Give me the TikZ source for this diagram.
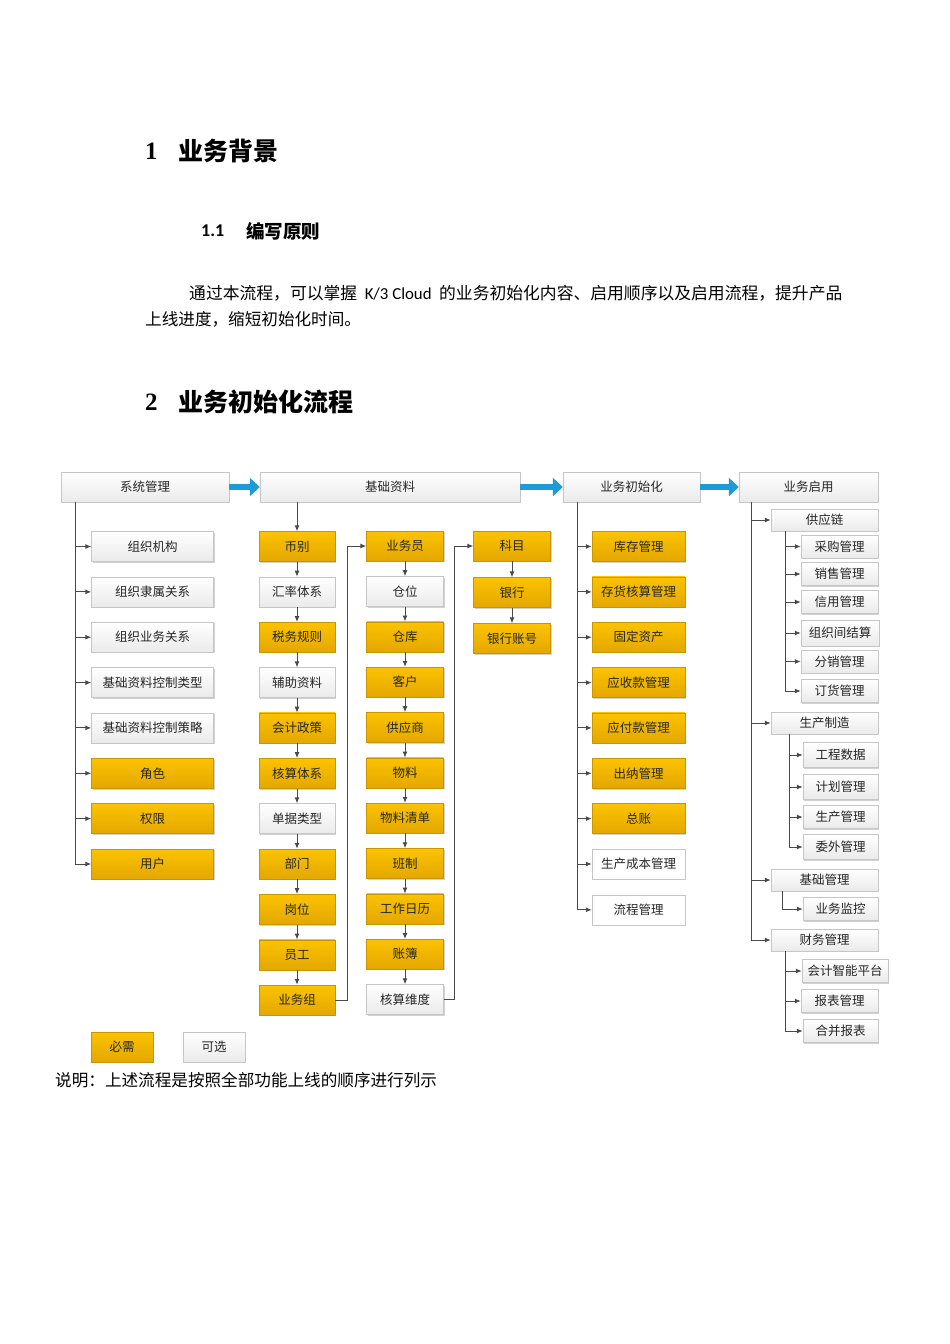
\documentclass[tikz,border=0pt]{standalone}
\usepackage{fontspec}
\setmainfont{Noto Sans CJK SC}
\newfontfamily\latf{Carlito}
\newfontfamily\serf{Liberation Serif}
\usetikzlibrary{arrows.meta,shadows}
\definecolor{yTop}{HTML}{FBC300}
\definecolor{yBot}{HTML}{E4A700}
\definecolor{yBdr}{HTML}{C99600}
\definecolor{wBot}{HTML}{EAEAEA}
\definecolor{wBdr}{HTML}{C6C6C6}
\definecolor{lineC}{HTML}{4A4A4A}
\definecolor{blueA}{HTML}{1E9AD6}
\begin{document}
\begin{tikzpicture}[x=1pt,y=-1pt,
  box/.style={rectangle, inner sep=0pt, font=\fontsize{12.5}{14}\selectfont, text=black!85,
    drop shadow={shadow xshift=1.2pt, shadow yshift=-1.2pt, opacity=0.18, fill=black}},
  ybox/.style={box, draw=yBdr, top color=yTop, bottom color=yBot, minimum height=30pt},
  wbox/.style={box, draw=wBdr, top color=white, bottom color=wBot, minimum height=30pt},
  pbox/.style={box, draw=wBdr, fill=white, minimum height=30pt},
  c1/.style={minimum width=122pt},
  c2/.style={minimum width=76pt},
  c3/.style={minimum width=77pt},
  c5/.style={minimum width=93pt},
  grp/.style={wbox, minimum width=107pt, minimum height=22pt},
  leaf/.style={wbox, minimum width=77pt, minimum height=23pt},
  arr/.style={draw=lineC, line width=1pt, -{Latex[length=6pt,width=5pt]}},
  barr/.style={draw=blueA, line width=6.5pt, -{Triangle[length=10pt,width=18pt]}},
  txt/.style={anchor=west, inner sep=0pt, text=black}
]
\fill[white] (0,0) rectangle (950,1344);
\useasboundingbox (0,0) rectangle (950,1344);

% ---------- headings and text ----------
\node[txt, font=\serf\bfseries\fontsize{25}{30}\selectfont] (hn1) at (145,151) {1};
\node[txt, font=\bfseries\fontsize{25}{30}\selectfont] (ht1) at (178,151) {业务背景};
\node[txt, font=\latf\bfseries\fontsize{18}{22}\selectfont] (hn11) at (201,231) {1.1};
\node[txt, font=\bfseries\fontsize{18.5}{22}\selectfont] (ht11) at (246,231) {编写原则};
\node[txt, font=\fontsize{16.8}{20}\selectfont] (p1) at (189,293) {通过本流程，可以掌握\hspace{0.45em}{\latf K/3 Cloud}\hspace{0.45em}的业务初始化内容、启用顺序以及启用流程，提升产品};
\node[txt, font=\fontsize{16.6}{20}\selectfont] (p2) at (145,319) {上线进度，缩短初始化时间。};
\node[txt, font=\serf\bfseries\fontsize{25}{30}\selectfont] (hn2) at (145,402) {2};
\node[txt, font=\bfseries\fontsize{25}{30}\selectfont] (ht2) at (178,402) {业务初始化流程};
\node[txt, font=\fontsize{16.6}{20}\selectfont] (note) at (55,1080) {说明：上述流程是按照全部功能上线的顺序进行列示};

% ---------- headers ----------
\node[wbox, minimum width=168pt] (h1) at (145,487) {系统管理};
\node[wbox, minimum width=260pt] (h2) at (390,487) {基础资料};
\node[wbox, minimum width=137pt] (h3) at (631.5,487) {业务初始化};
\node[wbox, minimum width=139pt] (h4) at (808.5,487) {业务启用};
\draw[barr] (h1.east) -- (h2.west);
\draw[barr] (h2.east) -- (h3.west);
\draw[barr] (h3.east) -- (h4.west);

% ---------- column 1 ----------
\node[wbox,c1] (a0) at (152.5,546.5) {组织机构};
\node[wbox,c1] (a1) at (152.5,591.9) {组织隶属关系};
\node[wbox,c1] (a2) at (152.5,637.2) {组织业务关系};
\node[wbox,c1] (a3) at (152.5,682.6) {基础资料控制类型};
\node[wbox,c1] (a4) at (152.5,727.9) {基础资料控制策略};
\node[ybox,c1] (a5) at (152.5,773.3) {角色};
\node[ybox,c1] (a6) at (152.5,818.6) {权限};
\node[ybox,c1] (a7) at (152.5,864.0) {用户};
\coordinate (t1) at ([xshift=15pt]h1.south west);
\foreach \n in {a0,a1,a2,a3,a4,a5,a6,a7} \draw[arr] (t1) |- (\n.west);

% ---------- column 2 ----------
\node[ybox,c2] (b0) at (297,546.5) {币别};
\node[wbox,c2] (b1) at (297,591.9) {汇率体系};
\node[ybox,c2] (b2) at (297,637.2) {税务规则};
\node[wbox,c2] (b3) at (297,682.6) {辅助资料};
\node[ybox,c2] (b4) at (297,727.9) {会计政策};
\node[ybox,c2] (b5) at (297,773.3) {核算体系};
\node[wbox,c2] (b6) at (297,818.6) {单据类型};
\node[ybox,c2] (b7) at (297,864.0) {部门};
\node[ybox,c2] (b8) at (297,909.3) {岗位};
\node[ybox,c2] (b9) at (297,954.7) {员工};
\node[ybox,c2] (b10) at (297,1000.0) {业务组};
\draw[arr] (b0.north |- h2.south) -- (b0.north);
\foreach \u/\v in {b0/b1,b1/b2,b2/b3,b3/b4,b4/b5,b5/b6,b6/b7,b7/b8,b8/b9,b9/b10}
  \draw[arr] (\u.south) -- (\v.north);

% ---------- column 3 ----------
\node[ybox,c3] (d0) at (405,546.0) {业务员};
\node[wbox,c3] (d1) at (405,591.4) {仓位};
\node[ybox,c3] (d2) at (405,636.7) {仓库};
\node[ybox,c3] (d3) at (405,682.1) {客户};
\node[ybox,c3] (d4) at (405,727.4) {供应商};
\node[ybox,c3] (d5) at (405,772.8) {物料};
\node[ybox,c3] (d6) at (405,818.1) {物料清单};
\node[ybox,c3] (d7) at (405,863.5) {班制};
\node[ybox,c3] (d8) at (405,908.8) {工作日历};
\node[ybox,c3] (d9) at (405,954.2) {账簿};
\node[wbox,c3] (d10) at (405,999.5) {核算维度};
\foreach \u/\v in {d0/d1,d1/d2,d2/d3,d3/d4,d4/d5,d5/d6,d6/d7,d7/d8,d8/d9,d9/d10}
  \draw[arr] (\u.south) -- (\v.north);
\draw[arr] (b10.east) -- ++(12,0) |- (d0.west);

% ---------- column 4 ----------
\node[ybox,c3] (e0) at (512,546.0) {科目};
\node[ybox,c3] (e1) at (512,592.5) {银行};
\node[ybox,c3] (e2) at (512,638.5) {银行账号};
\draw[arr] (e0.south) -- (e1.north);
\draw[arr] (e1.south) -- (e2.north);
\draw[arr] (d10.east) -- ++(11,0) |- (e0.west);

% ---------- column 5 ----------
\node[ybox,c5] (f0) at (638.5,546.5) {库存管理};
\node[ybox,c5] (f1) at (638.5,591.9) {存货核算管理};
\node[ybox,c5] (f2) at (638.5,637.2) {固定资产};
\node[ybox,c5] (f3) at (638.5,682.6) {应收款管理};
\node[ybox,c5] (f4) at (638.5,727.9) {应付款管理};
\node[ybox,c5] (f5) at (638.5,773.3) {出纳管理};
\node[ybox,c5] (f6) at (638.5,818.6) {总账};
\node[pbox,c5] (f7) at (638.5,864.0) {生产成本管理};
\node[pbox,c5] (f8) at (638.5,909.8) {流程管理};
\coordinate (t5) at ([xshift=15pt]h3.south west);
\foreach \n in {f0,f1,f2,f3,f4,f5,f6,f7,f8} \draw[arr] (t5) |- (\n.west);

% ---------- column 6 ----------
\node[grp] (g0) at (824.5,520) {供应链};
\node[grp] (g1) at (824.5,723) {生产制造};
\node[grp] (g2) at (824.5,880) {基础管理};
\node[grp] (g3) at (824.5,940) {财务管理};
\coordinate (t6) at ([xshift=13pt]h4.south west);
\foreach \n in {g0,g1,g2,g3} \draw[arr] (t6) |- (\n.west);

\node[leaf] (s0) at (839.5,546.5) {采购管理};
\node[leaf] (s1) at (839.5,574) {销售管理};
\node[leaf] (s2) at (839.5,602) {信用管理};
\node[leaf, minimum width=78pt, minimum height=26pt] (s3) at (840,633) {组织间结算};
\node[leaf] (s4) at (839.5,661.5) {分销管理};
\node[leaf] (s5) at (839.5,691) {订货管理};
\coordinate (u0) at ([xshift=15pt]g0.south west);
\foreach \n in {s0,s1,s2,s3,s4,s5} \draw[arr] (u0) |- (\n.west);

\node[leaf, minimum width=75pt, minimum height=25pt] (m0) at (840.5,755) {工程数据};
\node[leaf, minimum width=75pt, minimum height=25pt] (m1) at (840.5,787) {计划管理};
\node[leaf, minimum width=75pt] (m2) at (840.5,817) {生产管理};
\node[leaf, minimum width=75pt, minimum height=25pt] (m3) at (840.5,847) {委外管理};
\coordinate (u1) at ([xshift=19pt]g1.south west);
\foreach \n in {m0,m1,m2,m3} \draw[arr] (u1) |- (\n.west);

\node[leaf, minimum width=75pt] (k0) at (840.5,909) {业务监控};
\coordinate (u2) at ([xshift=12pt]g2.south west);
\draw[arr] (u2) |- (k0.west);

\node[leaf, minimum width=86pt] (r0) at (845,971) {会计智能平台};
\node[leaf] (r1) at (839.5,1001) {报表管理};
\node[leaf, minimum width=75pt] (r2) at (840.5,1031) {合并报表};
\coordinate (u3) at ([xshift=15pt]g3.south west);
\foreach \n in {r0,r1,r2} \draw[arr] (u3) |- (\n.west);

% ---------- legend ----------
\node[ybox, minimum width=62pt] (lg1) at (122,1047) {必需};
\node[wbox, minimum width=62pt] (lg2) at (214,1047) {可选};
\end{tikzpicture}
\end{document}
